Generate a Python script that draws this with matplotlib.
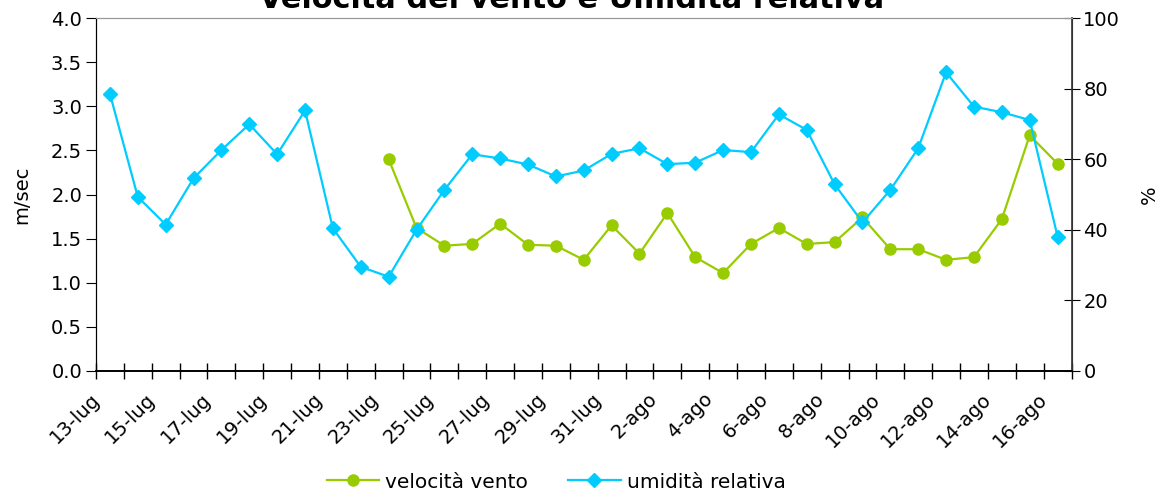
import numpy as np
import matplotlib
matplotlib.use("Agg")
import matplotlib.pyplot as plt
import matplotlib.transforms as mtransforms

plt.rcParams['font.family'] = ['DejaVu Sans']

dates = ["13-lug", "14-lug", "15-lug", "16-lug", "17-lug", "18-lug", "19-lug", "20-lug",
         "21-lug", "22-lug", "23-lug", "24-lug", "25-lug", "26-lug", "27-lug", "28-lug",
         "29-lug", "30-lug", "31-lug", "1-ago", "2-ago", "3-ago", "4-ago", "5-ago",
         "6-ago", "7-ago", "8-ago", "9-ago", "10-ago", "11-ago", "12-ago", "13-ago",
         "14-ago", "15-ago", "16-ago"]

vento = [np.nan] * 10 + [2.40, 1.62, 1.42, 1.44, 1.67, 1.43, 1.42, 1.26, 1.65, 1.33,
                         1.79, 1.29, 1.11, 1.44, 1.62, 1.44, 1.46, 1.74, 1.38, 1.38,
                         1.26, 1.29, 1.72, 2.67, 2.35]

umidita = [78.5, 49.3, 41.5, 54.6, 62.6, 69.9, 61.4, 73.8, 40.4, 29.5, 26.7, 40.0,
           51.3, 61.4, 60.2, 58.5, 55.1, 56.8, 61.5, 63.1, 58.6, 59.0, 62.6, 62.0,
           72.7, 68.3, 52.9, 42.1, 51.3, 63.1, 84.6, 74.9, 73.3, 71.1, 38.1]

green = "#99CC00"
cyan = "#00CCFF"

fig = plt.figure(figsize=(11.63, 4.95), dpi=100)
ax = fig.add_axes([96/1163, 1 - 371/495, (1071.5 - 96)/1163, (371 - 18)/495])
ax2 = ax.twinx()

x = np.arange(len(dates))
l1, = ax.plot(x, vento, color=green, marker='o', markersize=8, linewidth=1.6,
              label="velocità vento")
l2, = ax2.plot(x, umidita, color=cyan, marker='D', markersize=7, linewidth=1.6,
               label="umidità relativa")

ax.set_xlim(-0.5, len(dates) - 0.5)
ax.set_ylim(0, 4)
ax2.set_ylim(0, 100)
ax.set_yticks(np.arange(0, 4.01, 0.5))
ax.set_yticklabels([f"{v:.1f}" for v in np.arange(0, 4.01, 0.5)])
ax2.set_yticks(np.arange(0, 101, 20))

ax.set_xticks(np.arange(-0.5, len(dates), 1.0))
ax.set_xticklabels([])
ax.tick_params(axis='x', which='major', direction='inout', length=11, width=1)
ax.set_xticks(x[::2], minor=True)
ax.set_xticklabels(dates[::2], minor=True, rotation=45, ha='right', va='top',
                   rotation_mode='anchor', fontsize=14)
ax.tick_params(axis='x', which='minor', length=0, pad=9)
offset = mtransforms.ScaledTranslation(-20/100, -6/100, fig.dpi_scale_trans)
for lbl in ax.get_xticklabels(minor=True):
    lbl.set_transform(lbl.get_transform() + offset)

ax.tick_params(axis='y', direction='out', length=7, labelsize=14, pad=3)
ax2.tick_params(axis='y', direction='inout', length=11, labelsize=14, pad=3)

for a in (ax, ax2):
    a.spines['top'].set_color('#999999')
    a.spines['left'].set_color('black')
    a.spines['bottom'].set_color('black')
    a.spines['right'].set_color('#333333')
    a.spines['bottom'].set_linewidth(1.2)
ax2.spines['right'].set_linewidth(1.2)

ax.set_ylabel("m/sec", fontsize=14, labelpad=14)
ax2.set_ylabel("%", fontsize=14, labelpad=14)

fig.text(572/1163, 1 - 8/495, "Velocità del vento e Umidità relativa",
         ha='center', va='baseline', fontsize=21.9, fontweight='bold')

fig.legend(handles=[l1, l2], loc='center', bbox_to_anchor=(556/1163, 1 - 482/495),
           ncol=2, frameon=False, fontsize=14.5, handlelength=2.6, handletextpad=0.3,
           columnspacing=2.0)

fig.savefig("out.png", dpi=100)
